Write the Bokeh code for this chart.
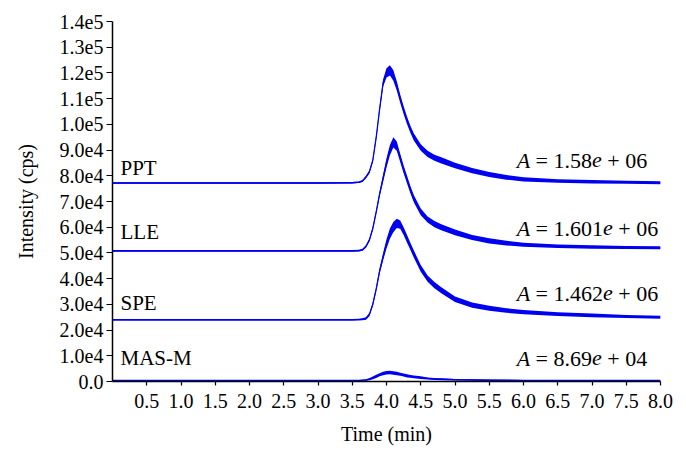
from bokeh.plotting import figure
from bokeh.models import Range1d, FixedTicker, Label
from bokeh.embed import file_html
from bokeh.resources import INLINE

# ---------------- data (intensities in units of 1e4 cps) ----------------
time_min = [0, 1, 2, 3, 3.5, 3.6, 3.65, 3.7, 3.75, 3.8, 3.85, 3.9, 3.95, 4.0, 4.05,
            4.1, 4.15, 4.2, 4.25, 4.3, 4.35, 4.4, 4.5, 4.6, 4.7, 4.8, 5.0, 5.25,
            5.5, 5.75, 6.0, 6.5, 7.0, 7.5, 8.0]
ppt = [7.72, 7.72, 7.72, 7.72, 7.73, 7.75, 7.80, 7.95, 8.15, 8.6, 9.5, 10.6, 11.6, 12.0, 12.1,
       11.9, 11.5, 11.0, 10.55, 10.15, 9.8, 9.5, 9.1, 8.85, 8.7, 8.6, 8.4, 8.2,
       8.05, 7.94, 7.86, 7.80, 7.77, 7.75, 7.73]
lle = [5.08, 5.08, 5.08, 5.08, 5.08, 5.09, 5.12, 5.25, 5.5, 5.95, 6.6, 7.3, 7.9, 8.5, 9.0,
       9.3, 9.15, 8.7, 8.25, 7.85, 7.45, 7.1, 6.6, 6.3, 6.12, 6.0, 5.8, 5.6,
       5.47, 5.38, 5.32, 5.26, 5.23, 5.21, 5.2]
spe = [2.4, 2.4, 2.4, 2.4, 2.4, 2.41, 2.42, 2.45, 2.6, 3.0, 3.6, 4.3, 4.85, 5.35, 5.75,
       6.0, 6.15, 6.1, 5.85, 5.55, 5.25, 4.95, 4.4, 4.0, 3.75, 3.55, 3.2, 2.97,
       2.85, 2.76, 2.7, 2.62, 2.57, 2.53, 2.5]
masm = [0.04, 0.04, 0.04, 0.04, 0.04, 0.04, 0.05, 0.06, 0.09, 0.14, 0.2, 0.26, 0.31, 0.34, 0.35,
        0.33, 0.31, 0.28, 0.25, 0.22, 0.2, 0.18, 0.15, 0.12, 0.1, 0.09, 0.07, 0.06,
        0.05, 0.05, 0.04, 0.04, 0.04, 0.04, 0.04]
# half-width of the noise band seen on the traces
noise_main = [0.03, 0.03, 0.03, 0.03, 0.03, 0.03, 0.04, 0.05, 0.06, 0.07, 0.08, 0.1, 0.14, 0.18, 0.2,
              0.2, 0.18, 0.16, 0.15, 0.15, 0.14, 0.14, 0.13, 0.12, 0.12, 0.12, 0.11, 0.1,
              0.1, 0.09, 0.08, 0.07, 0.07, 0.06, 0.06]
noise_masm = [0.02, 0.02, 0.02, 0.02, 0.02, 0.02, 0.02, 0.03, 0.04, 0.05, 0.06, 0.06, 0.07, 0.07, 0.07,
              0.07, 0.07, 0.06, 0.06, 0.06, 0.05, 0.05, 0.05, 0.04, 0.04, 0.04, 0.03, 0.03,
              0.03, 0.02, 0.02, 0.02, 0.02, 0.02, 0.02]

trace_names = ["PPT", "LLE", "SPE", "MAS-M"]
trace_label_y = [8.29, 5.80, 3.04, 0.93]
area_mantissa = ["1.58", "1.601", "1.462", "8.69"]
area_exponent = ["06", "06", "06", "04"]
area_label_y = [8.60, 5.96, 3.43, 0.90]

y_ticks = [0, 1, 2, 3, 4, 5, 6, 7, 8, 9, 10, 11, 12, 13, 14]
y_tick_labels = ["0.0", "1.0e4", "2.0e4", "3.0e4", "4.0e4", "5.0e4", "6.0e4", "7.0e4", "8.0e4",
                 "9.0e4", "1.0e5", "1.1e5", "1.2e5", "1.3e5", "1.4e5"]
x_ticks = [0.5, 1.0, 1.5, 2.0, 2.5, 3.0, 3.5, 4.0, 4.5, 5.0, 5.5, 6.0, 6.5, 7.0, 7.5, 8.0]
x_tick_labels = ["0.5", "1.0", "1.5", "2.0", "2.5", "3.0", "3.5", "4.0", "4.5", "5.0",
                 "5.5", "6.0", "6.5", "7.0", "7.5", "8.0"]
SCALE = 1e4

# ---------------- styling ----------------
FONT = "Liberation Serif"
BLUE = "#0000f0"
EM = {d: 0.5 for d in "0123456789"}
EM.update({".": 0.25, " ": 0.25, "=": 0.564, "+": 0.564, "A": 0.611, "e": 0.444})


def tw(s, size):
    return sum(EM.get(c, 0.5) for c in s) * size


p = figure(width=686, height=458, output_backend="svg", toolbar_location=None,
           x_range=Range1d(0, 8), y_range=Range1d(0, 14 * SCALE),
           min_border_left=112, min_border_right=26, min_border_top=21, min_border_bottom=77)
p.outline_line_color = None
p.xgrid.visible = False
p.ygrid.visible = False
p.background_fill_color = "white"

for ax in (p.xaxis[0], p.yaxis[0]):
    ax.axis_line_color = "black"
    ax.axis_line_width = 1.5
    ax.major_tick_line_color = "black"
    ax.major_tick_line_width = 1.2
    ax.minor_tick_line_color = None
    ax.major_tick_in = 0
    ax.major_label_text_font = FONT
    ax.major_label_text_font_size = "20px"
    ax.major_label_text_color = "black"
    ax.axis_label_text_font = FONT
    ax.axis_label_text_font_size = "20px"
    ax.axis_label_text_font_style = "normal"
    ax.axis_label_text_color = "black"

p.xaxis.ticker = FixedTicker(ticks=x_ticks)
p.xaxis.major_label_overrides = {t: s for t, s in zip(x_ticks, x_tick_labels)}
p.xaxis.major_tick_out = 4
p.xaxis.major_label_standoff = 8
p.xaxis.axis_label = "Time (min)"
p.xaxis.axis_label_standoff = 12

p.yaxis.ticker = FixedTicker(ticks=[t * SCALE for t in y_ticks])
p.yaxis.major_label_overrides = {t * SCALE: s for t, s in zip(y_ticks, y_tick_labels)}
p.yaxis.major_tick_out = 6
p.yaxis.major_label_standoff = 3
p.yaxis.axis_label = "Intensity (cps)"
p.yaxis.axis_label_standoff = 20

# traces
series = [ppt, lle, spe, masm]
noises = [noise_main, noise_main, noise_main, noise_masm]
for vals, nz in zip(series, noises):
    y = [v * SCALE for v in vals]
    lo = [(v - n) * SCALE for v, n in zip(vals, nz)]
    hi = [(v + n) * SCALE for v, n in zip(vals, nz)]
    p.varea(x=time_min, y1=lo, y2=hi, fill_color=BLUE, fill_alpha=1.0)
    p.line(time_min, y, line_color=BLUE, line_width=1.3)

# trace names
for name, yv in zip(trace_names, trace_label_y):
    p.add_layout(Label(x=0, y=yv * SCALE, x_offset=8, text=name, text_align="left", text_baseline="middle",
                       text_font=FONT, text_font_size="21px", text_color="black"))

# area annotations "A = m e + xx" with italic A and e
AS = 22
AX = 5.9
for m, ex, yv in zip(area_mantissa, area_exponent, area_label_y):
    yy = yv * SCALE
    off = 0.0
    p.add_layout(Label(x=AX, y=yy, x_offset=off, text="A", text_align="left", text_baseline="middle",
                       text_font=FONT, text_font_style="italic", text_font_size=f"{AS}px", text_color="black"))
    off += tw("A ", AS)
    t2 = "= " + m
    p.add_layout(Label(x=AX, y=yy, x_offset=off, text=t2, text_align="left", text_baseline="middle",
                       text_font=FONT, text_font_size=f"{AS}px", text_color="black"))
    off += tw(t2, AS)
    p.add_layout(Label(x=AX, y=yy, x_offset=off, text="e", text_align="left", text_baseline="middle",
                       text_font=FONT, text_font_style="italic", text_font_size=f"{AS}px", text_color="black"))
    off += tw("e ", AS)
    p.add_layout(Label(x=AX, y=yy, x_offset=off, text="+ " + ex, text_align="left", text_baseline="middle",
                       text_font=FONT, text_font_size=f"{AS}px", text_color="black"))

open("out.html", "w").write(file_html(p, INLINE))
